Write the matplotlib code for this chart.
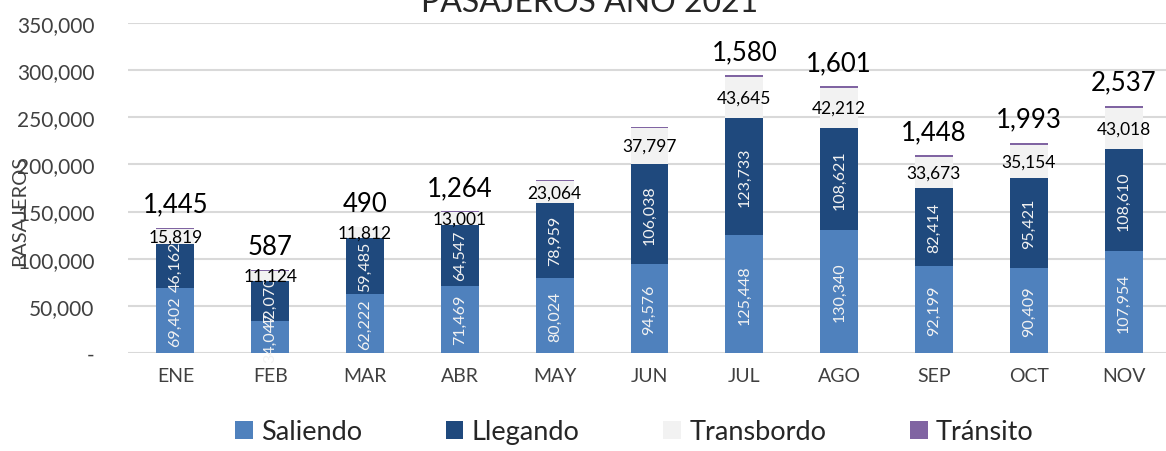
import numpy as np
import matplotlib
matplotlib.use("Agg")
import matplotlib.pyplot as plt

plt.rcParams['font.family'] = ['Lato', 'DejaVu Sans']

# ---------------------------------------------------------
# Data
# ---------------------------------------------------------
months = ["ENE", "FEB", "MAR", "ABR", "MAY", "JUN", "JUL", "AGO", "SEP", "OCT", "NOV"]
saliendo = [69402, 34047, 62222, 71469, 80024, 94576, 125448, 130340, 92199, 90409, 107954]
llegando = [46162, 42070, 59485, 64547, 78959, 106038, 123733, 108621, 82414, 95421, 108610]
transbordo = [15819, 11124, 11812, 13001, 23064, 37797, 43645, 42212, 33673, 35154, 43018]
transito = [1445, 587, 490, 1264, 1300, 1400, 1580, 1601, 1448, 1993, 2537]
# MAY / JUN show no transit label in the reference
transito_labels = ["1,445", "587", "490", "1,264", "", "", "1,580", "1,601", "1,448", "1,993", "2,537"]

c_sal = '#4F81BD'
c_lle = '#1F497D'
c_tra = '#F2F2F2'
c_tst = '#8064A2'

fig = plt.figure(figsize=(11.66, 4.52), dpi=100)
ax = fig.add_axes([128 / 1166, 1 - 354 / 452, (1171 - 128) / 1166, (354 - 24) / 452])

x = np.arange(len(months))
w = 0.4
sal = np.array(saliendo)
lle = np.array(llegando)
trb = np.array(transbordo)
tst = np.array(transito)

b1 = ax.bar(x, sal, w, color=c_sal, label='Saliendo', zorder=3)
b2 = ax.bar(x, lle, w, bottom=sal, color=c_lle, label='Llegando', zorder=3)
b3 = ax.bar(x, trb, w, bottom=sal + lle, color=c_tra, label='Transbordo', zorder=3)
b4 = ax.bar(x, tst, w, bottom=sal + lle + trb, color=c_tst, label='Tránsito', zorder=3)

# labels inside the bars
for i in range(len(months)):
    ax.text(x[i], sal[i] / 2, f"{saliendo[i]:,}", rotation=90, ha='center', va='center',
            color='#F2F2F2', fontsize=11.5, zorder=4)
    ax.text(x[i], sal[i] + lle[i] / 2, f"{llegando[i]:,}", rotation=90, ha='center', va='center',
            color='#F2F2F2', fontsize=11.5, zorder=4)
    ax.text(x[i], sal[i] + lle[i] + trb[i] / 2, f"{transbordo[i]:,}", ha='center', va='center',
            color='black', fontsize=12.5, zorder=4)
    top = sal[i] + lle[i] + trb[i] + tst[i]
    if transito_labels[i]:
        ax.annotate(transito_labels[i], (x[i], top), xytext=(0, 8), textcoords='offset points',
                    ha='center', va='bottom', fontsize=18.5, color='black', zorder=4)

ax.set_xlim(-0.5, len(months) - 0.5)
ax.set_ylim(0, 350000)
ax.set_yticks(np.arange(0, 350001, 50000))
ax.set_yticklabels(['-'] + [f"{v:,}" for v in range(50000, 350001, 50000)])
ax.set_xticks(x)
ax.set_xticklabels(months)
ax.tick_params(axis='y', length=0, pad=24, labelsize=15, labelcolor='#404040')
ax.tick_params(axis='x', length=0, pad=10, labelsize=14, labelcolor='#404040')
ax.grid(axis='y', color='#D9D9D9', linewidth=1.5, zorder=0)
for s in ax.spines.values():
    s.set_visible(False)

fig.text(20 / 1166, 0.533, 'PASAJEROS', rotation=90, ha='center', va='center',
         fontsize=14.5, color='#404040')
fig.text(590 / 1166, 1 - 12 / 452, 'PASAJEROS AÑO 2021', ha='center', va='baseline',
         fontsize=23, color='#262626')

fig.legend(handles=[b1, b2, b3, b4], loc='center', bbox_to_anchor=(0.544, 1 - 433 / 452),
           ncol=4, frameon=False, fontsize=19.5, handlelength=0.65, handleheight=0.65,
           handletextpad=0.3, columnspacing=3.1, labelcolor='#262626')

fig.savefig('out.png', dpi=100)
